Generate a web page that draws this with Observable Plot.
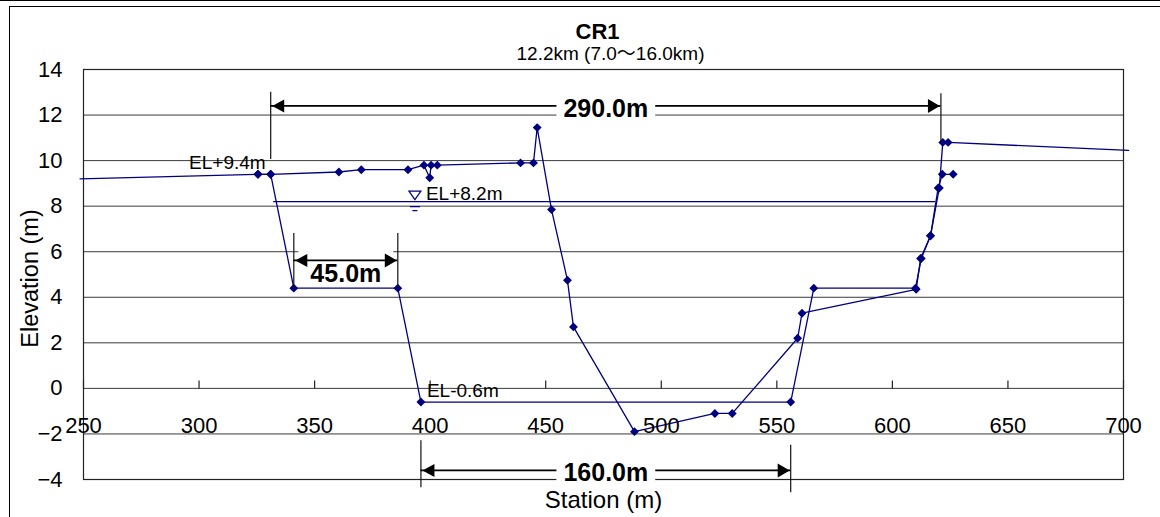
<!DOCTYPE html>
<html>
<head>
<meta charset="utf-8">
<script src="https://cdn.jsdelivr.net/npm/d3@7"></script>
<script src="https://cdn.jsdelivr.net/npm/@observablehq/plot@0.6"></script>
<style>
  html, body { margin: 0; padding: 0; background: #fff; }
  #page { position: relative; width: 1160px; height: 517px; overflow: hidden; }
  #chart svg { position: absolute; left: 0; top: 0; }
  .rule-top { position: absolute; left: 0; top: 0; width: 1160px; height: 0; border-top: 1.5px solid #000; }
  .sheet { position: absolute; left: 9px; top: 6px; width: 1300px; height: 700px;
           border-left: 1.5px solid #000; border-top: 1.5px solid #000; }
</style>
</head>
<body>
<div id="page">
  <div id="chart"></div>
  <div class="rule-top"></div>
  <div class="sheet"></div>
</div>
<script>
// ---- chart text ----
const titleText = "CR1";
const subtitleText = "12.2km (7.0～16.0km)";
const xTitle = "Station (m)";
const yTitle = "Elevation (m)";

// ---- axes ----
const xTicks = [250, 300, 350, 400, 450, 500, 550, 600, 650, 700];
const yTicks = [-4, -2, 0, 2, 4, 6, 8, 10, 12, 14];

// ---- surveyed cross-section (station m / elevation m) ----
const surveyStation   = [325.5, 331.0, 360.5, 370.2, 390.4, 397.3, 399.8, 400.4, 403.1, 439.1, 444.7, 446.3,
                         452.5, 459.4, 462.0, 488.4, 523.2, 530.7, 559.0, 560.9, 610.3, 612.2, 616.5, 619.8,
                         621.6, 626.3];
const surveyElevation = [9.4, 9.4, 9.5, 9.6, 9.6, 9.8, 9.25, 9.8, 9.8, 9.9, 9.9, 11.45,
                         7.85, 4.75, 2.7, -1.9, -1.1, -1.1, 2.2, 3.3, 4.35, 5.7, 6.7, 8.8,
                         9.4, 9.4];

// ---- design cross-section (station m / elevation m) ----
const designStation   = [248.5, 325.5, 331.0, 341.0, 386.0, 396.0, 556.0, 566.0, 610.0, 612.5, 616.5,
                         620.3, 621.8, 624.1, 702.2];
const designElevation = [9.2, 9.4, 9.4, 4.4, 4.4, -0.6, -0.6, 4.4, 4.4, 5.7, 6.7,
                         8.8, 10.8, 10.8, 10.45];

// ---- design water level ----
const waterLevel = 8.2;
const waterFrom = 332.3;
const waterTo = 618.7;
const waterMarkStation = 393.4;

// ---- elevation call-outs ----
const elLabelStation   = [331.0, 396.0];
const elLabelElevation = [9.4, -0.6];

// ---- dimension lines ----
const dimStart  = [331, 341, 396];
const dimLength = [290, 45, 160];
const dimLevel  = [12.4, 5.62, -3.6];
const dimExtStartTop    = [13.0, 6.8, -2.3];
const dimExtStartBottom = [10.05, 4.4, -4.36];
const dimExtEndTop      = [12.93, 6.8, -2.5];
const dimExtEndBottom   = [10.8, 4.4, -4.58];

// ---- derived tables ----
const survey = surveyStation.map((s, i) => ({station: s, elevation: surveyElevation[i]}));
const design = designStation.map((s, i) => ({station: s, elevation: designElevation[i]}));
const inView = d => d.station >= xTicks[0] && d.station <= xTicks[xTicks.length - 1];
const fmtEL = v => "EL" + (v >= 0 ? "+" : "-") + Math.abs(v).toFixed(1) + "m";
const fmtTick = d => (d < 0 ? "\u2212" + (-d) : String(d));
const elLabels = elLabelStation.map((s, i) => ({station: s, elevation: elLabelElevation[i], text: fmtEL(elLabelElevation[i])}));
const water = [{station: waterMarkStation, elevation: waterLevel, text: fmtEL(waterLevel)}];
const dims = dimStart.map((s, i) => ({
  x1: s, x2: s + dimLength[i], y: dimLevel[i], label: dimLength[i].toFixed(1) + "m"
}));
const extLines = dims.flatMap((d, i) => [
  {x: d.x1, y1: dimExtStartTop[i], y2: dimExtStartBottom[i]},
  {x: d.x2, y1: dimExtEndTop[i], y2: dimExtEndBottom[i]}
]);
// the short (45 m) label hangs under its arrow; the long ones sit on the line
const labelUnder = d => d.x2 - d.x1 < 100;

// ---- custom glyphs ----
const NAVY = "#000080";
const headLeft  = {draw(c) { c.moveTo(1.5, 0); c.lineTo(13.5, -6.5); c.lineTo(13.5, 6.5); c.closePath(); }};
const headRight = {draw(c) { c.moveTo(-1, 0); c.lineTo(-13, -7); c.lineTo(-13, 7); c.closePath(); }};
const tickUp    = {draw(c) { c.moveTo(0, 0); c.lineTo(0, -8); }};
const waterMark = {draw(c) {
  c.moveTo(-6, -10.5); c.lineTo(6, -10.5); c.lineTo(0, -2); c.closePath();
  c.moveTo(-5, 5); c.lineTo(5, 5);
  c.moveTo(-2.5, 9); c.lineTo(2.5, 9);
}};

const chart = Plot.plot({
  width: 1160,
  height: 517,
  marginLeft: 83,
  marginRight: 37,
  marginTop: 69,
  marginBottom: 38,
  style: {fontFamily: "'Liberation Sans', Arial, 'Noto Sans CJK JP', sans-serif", background: "transparent", color: "#000", overflow: "visible"},
  x: {domain: [xTicks[0], xTicks[xTicks.length - 1]], axis: null},
  y: {domain: [yTicks[0], yTicks[yTicks.length - 1]], axis: null},
  marks: [
    Plot.ruleY(yTicks, {y: d => d, stroke: "#3a3a3a", strokeWidth: 1}),
    Plot.frame({stroke: "#222", strokeWidth: 1.2}),
    Plot.dot(xTicks, {x: d => d, y: 0, symbol: tickUp, stroke: "#222", fill: "none", strokeWidth: 1.2}),

    // water surface
    Plot.ruleY([waterLevel], {y: d => d, x1: waterFrom, x2: waterTo, stroke: NAVY, strokeWidth: 1.3}),

    // cross-sections
    Plot.line(design, {x: "station", y: "elevation", stroke: NAVY, strokeWidth: 1.3}),
    Plot.line(survey, {x: "station", y: "elevation", stroke: NAVY, strokeWidth: 1.3}),
    Plot.dot(design.filter(inView), {x: "station", y: "elevation", symbol: "diamond2", r: 4, fill: NAVY, stroke: "none"}),
    Plot.dot(survey.filter(inView), {x: "station", y: "elevation", symbol: "diamond2", r: 4, fill: NAVY, stroke: "none"}),

    // water mark and elevation call-outs
    Plot.dot(water, {x: "station", y: "elevation", symbol: waterMark, fill: "white", stroke: NAVY, strokeWidth: 1.2}),
    Plot.text(water, {x: "station", y: "elevation", text: "text", textAnchor: "start", lineAnchor: "bottom", dx: 11, dy: -2, fontSize: 19, fill: "#000"}),
    Plot.text(elLabels.filter(d => d.elevation > 0), {x: "station", y: "elevation", text: "text", textAnchor: "end", lineAnchor: "bottom", dx: -5, dy: -5, fontSize: 19, fill: "#000"}),
    Plot.text(elLabels.filter(d => d.elevation <= 0), {x: "station", y: "elevation", text: "text", textAnchor: "start", lineAnchor: "bottom", dx: 6, dy: -5, fontSize: 19, fill: "#000"}),

    // tick labels
    Plot.text(xTicks, {x: d => d, y: 0, text: d => String(d), dy: 38, fontSize: 22, fill: "#000"}),
    Plot.text(yTicks, {y: d => d, frameAnchor: "left", textAnchor: "end", lineAnchor: "middle", dx: -21,
                       text: fmtTick, fontSize: 22, fill: "#000"}),

    // dimension lines
    Plot.ruleX(extLines, {x: "x", y1: "y1", y2: "y2", stroke: "#111", strokeWidth: 1.2}),
    Plot.ruleY(dims, {y: "y", x1: "x1", x2: "x2", stroke: "#000", strokeWidth: 1.8}),
    Plot.dot(dims, {x: "x1", y: "y", symbol: headLeft, fill: "#000", stroke: "none"}),
    Plot.dot(dims, {x: "x2", y: "y", symbol: headRight, fill: "#000", stroke: "none"}),
    Plot.text(dims.filter(d => !labelUnder(d)), {x: d => (d.x1 + d.x2) / 2, y: "y", text: "label", dy: 3,
              fontWeight: "bold", fontSize: 25, fill: "#000"}),
    Plot.text(dims.filter(labelUnder), {x: d => (d.x1 + d.x2) / 2, y: "y", text: "label", dy: 14,
              fontWeight: "bold", fontSize: 25, fill: "#000"}),

    // titles
    Plot.text([titleText], {text: d => d, frameAnchor: "top", lineAnchor: "middle", dx: -6, dy: -38, fontWeight: "bold", fontSize: 22, fill: "#000"}),
    Plot.text([subtitleText], {text: d => d, frameAnchor: "top", lineAnchor: "middle", dx: 7, dy: -16, fontSize: 19, fill: "#000"}),
    Plot.text([yTitle], {text: d => d, frameAnchor: "left", textAnchor: "middle", lineAnchor: "middle", rotate: -90, dx: -53, dy: 4, fontSize: 23.5, fill: "#000"}),
    Plot.text([xTitle], {text: d => d, frameAnchor: "bottom", lineAnchor: "middle", dy: 21, fontSize: 24, fill: "#000"})
  ]
});

document.getElementById("chart").append(chart);

// white backing boxes behind the dimension labels
const svgBox = chart.getBoundingClientRect();
const allText = Array.from(chart.querySelectorAll("text"));
function topLevel(node) {
  while (node && node.parentNode && node.parentNode !== chart) node = node.parentNode;
  return node;
}
function backLabel(label, padX, padTop, padBottom, before) {
  const t = allText.find(e => e.textContent === label);
  if (!t) return;
  const r = t.getBoundingClientRect();
  const rect = document.createElementNS("http://www.w3.org/2000/svg", "rect");
  rect.setAttribute("x", r.left - svgBox.left - padX);
  rect.setAttribute("y", r.top - svgBox.top - padTop);
  rect.setAttribute("width", r.width + 2 * padX);
  rect.setAttribute("height", r.height + padTop + padBottom);
  rect.setAttribute("fill", "white");
  const anchor = before || topLevel(t);
  if (anchor) chart.insertBefore(rect, anchor);
}
// boxes for the on-line labels cover the arrow; the hanging label's box sits beneath the dimension marks
const tickGroup = topLevel(allText.find(e => e.textContent === fmtTick(yTicks[0])));
const afterTicks = tickGroup ? tickGroup.nextSibling : null;
dims.forEach(d => {
  if (labelUnder(d)) backLabel(d.label, 12, 10, -5, afterTicks);
  else backLabel(d.label, 7, 1, 2, null);
});
</script>
</body>
</html>
